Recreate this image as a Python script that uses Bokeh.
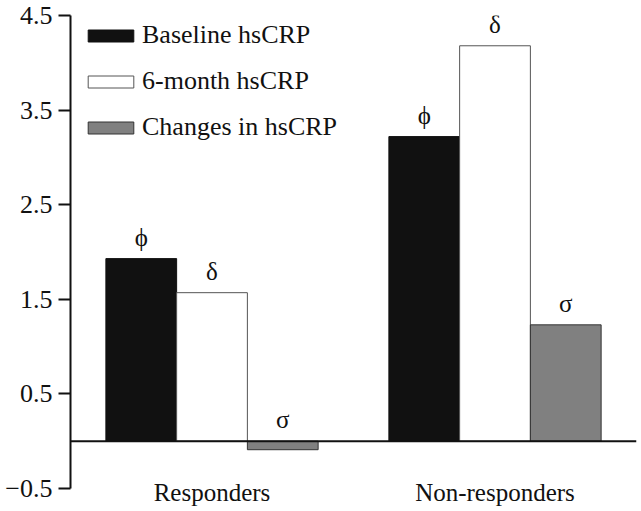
from bokeh.plotting import figure
from bokeh.models import ColumnDataSource, FixedTicker, Span, Range1d
from bokeh.core.properties import value
from bokeh.embed import file_html
from bokeh.resources import INLINE

groups = ["Responders", "Non-responders"]
group_pos = [1, 2]
baseline = [1.93, 3.22]
six_month = [1.57, 4.18]
changes = [-0.09, 1.23]
sym_baseline = ["\u03d5", "\u03d5"]
sym_six = ["δ", "δ"]
sym_change = ["σ", "σ"]
y_ticks = [-0.5, 0.5, 1.5, 2.5, 3.5, 4.5]

FONT = "Liberation Serif"

p = figure(width=641, height=511, output_backend="svg", toolbar_location=None,
           x_range=Range1d(0.5, 2.5), y_range=Range1d(-0.5, 4.5),
           min_border_left=70, min_border_right=5, min_border_top=15, min_border_bottom=23)
p.outline_line_color = None
p.grid.visible = False

bw = 0.25
series = [
    (baseline, -bw, "#111111", "#111111", "Baseline hsCRP", sym_baseline),
    (six_month, 0.0, "#ffffff", "#555555", "6-month hsCRP", sym_six),
    (changes, bw, "#808080", "#333333", "Changes in hsCRP", sym_change),
]
for vals, off, fill, line, lab, syms in series:
    src = ColumnDataSource(dict(
        x=[g + off for g in group_pos], top=vals,
        ty=[max(v, 0) for v in vals], sym=syms))
    p.vbar(x="x", top="top", bottom=0, width=bw, source=src,
           fill_color=fill, line_color=line, line_width=1, legend_label=lab)
    p.text(x="x", y="ty", text="sym", source=src, y_offset=-8,
           text_align="center", text_baseline="bottom",
           text_font=value(FONT), text_font_size="25px", text_color="#111111")

p.add_layout(Span(location=0, dimension="width", line_color="#111111", line_width=2))

yax = p.yaxis[0]
yax.ticker = FixedTicker(ticks=y_ticks)
yax.major_label_overrides = {-0.5: "\u22120.5"}
yax.minor_tick_line_color = None
yax.major_tick_in = 0
yax.major_tick_out = 12
yax.major_tick_line_width = 2
yax.axis_line_width = 2
yax.axis_line_color = "#111111"
yax.major_tick_line_color = "#111111"
yax.major_label_text_font = FONT
yax.major_label_text_font_size = "26px"
yax.major_label_text_color = "#111111"
yax.major_label_standoff = 6

xax = p.xaxis[0]
xax.ticker = FixedTicker(ticks=group_pos)
xax.major_label_overrides = {g: n for g, n in zip(group_pos, groups)}
xax.axis_line_color = None
xax.major_tick_line_color = None
xax.minor_tick_line_color = None
xax.major_label_text_font = FONT
xax.major_label_text_font_size = "25px"
xax.major_label_text_color = "#111111"
xax.major_label_standoff = -16

leg = p.legend[0]
leg.location = (12, 346)
leg.border_line_color = None
leg.background_fill_alpha = 0
leg.padding = 0
leg.margin = 0
leg.spacing = 16
leg.glyph_width = 57
leg.glyph_height = 15
leg.label_height = 30
leg.label_standoff = 3
leg.label_text_font = FONT
leg.label_text_font_size = "26px"
leg.label_text_color = "#111111"

open("out.html", "w").write(file_html(p, INLINE))
